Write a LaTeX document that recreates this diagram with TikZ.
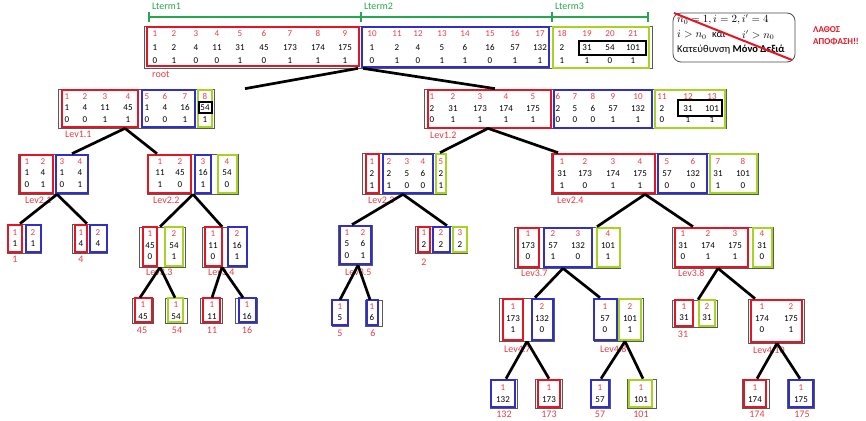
\documentclass[tikz,border=0pt]{standalone}
\usepackage{fontspec}
\setmainfont{Carlito}
\usetikzlibrary{fit}
\definecolor{cred}{RGB}{228,22,36}
\definecolor{cblue}{RGB}{48,48,200}
\definecolor{clime}{RGB}{165,212,35}
\definecolor{cidx}{RGB}{232,62,72}
\definecolor{cgreen}{RGB}{40,168,78}
\newcommand\Xout[5]{\node[outerbox, fit={(#2,#3) (#4,#5)}] (#1) {};}
\newcommand\Xred[4]{\draw[redbox] (#1,#2) rectangle (#3,#4);}
\newcommand\Xblue[4]{\draw[bluebox] (#1,#2) rectangle (#3,#4);}
\newcommand\Xlime[4]{\draw[limebox] (#1,#2) rectangle (#3,#4);}
\newcommand\Xtri[4]{\foreach \cx/\ci/\cv/\cb in {#4}{\node[ix] at (\cx,#1) {\ci}; \node[vl] at (\cx,#2) {\cv}; \node[vl] at (\cx,#3) {\cb};}}
\newcommand\Xduo[3]{\foreach \cx/\ci/\cv in {#3}{\node[ix] at (\cx,#1) {\ci}; \node[vl] at (\cx,#2) {\cv};}}
\begin{document}
\begin{tikzpicture}[x=1pt,y=-1pt,
  outerbox/.style={draw=black!65, line width=0.7pt, inner sep=0pt},
  redbox/.style={draw=cred, line width=2.3pt},
  bluebox/.style={draw=cblue, line width=2.3pt},
  limebox/.style={draw=clime, line width=2.3pt},
  blackbox/.style={draw=black, line width=2.3pt},
  ix/.style={text=cidx, font=\fontsize{9}{10}\selectfont, inner sep=0pt, text height=5.7pt, text depth=0pt},
  vl/.style={text=black, font=\fontsize{9}{10}\selectfont, inner sep=0pt, text height=5.7pt, text depth=0pt},
  lab/.style={text=cidx, font=\fontsize{10}{11}\selectfont, inner sep=0pt, text height=6.4pt, text depth=0pt},
  link/.style={draw=black, line width=2.7pt},
  term/.style={draw=cgreen, line width=1.2pt},
  termlab/.style={text=cgreen, font=\fontsize{10}{11}\selectfont, inner sep=0pt, anchor=west, text height=6.4pt, text depth=0pt},
  note/.style={font=\fontsize{10.5}{12}\selectfont, inner sep=0pt, anchor=west},
]
\fill[white] (0,0) rectangle (866,420);
\useasboundingbox (0,0) rectangle (866,420);

% ---------- Lterm brackets ----------
\draw[term] (149,17) -- (361,17); \draw[term] (149,12) -- (149,22);
\draw[term] (361,17) -- (552,17); \draw[term] (361,12) -- (361,22);
\draw[term] (552,17) -- (648,17); \draw[term] (552,12) -- (552,22); \draw[term] (648,12) -- (648,22);
\node[termlab] (t1) at (152,6) {Lterm1};
\node[termlab] (t2) at (364,6) {Lterm2};
\node[termlab] (t3) at (555,6) {Lterm3};

% ---------- note ----------
\draw[draw=black!70, line width=0.8pt, rounded corners=8pt] (673,13) rectangle (795,62);
\node[note] (n1) at (677,20) {$n_0=1, i=2, i'=4$};
\node[note] (n2) at (677,35) {$i>n_0$};
\node[note] (n3) at (712,35) {και};
\node[note] (n4) at (742,35) {$i'>n_0$};
\node[note] (n5) at (677,50) {Κατεύθυνση \textbf{Μόνο Δεξιά}};
\draw[draw=cred, line width=2pt] (674,13) -- (792,60);
\node[text=cred, font=\fontsize{9}{10}\selectfont\bfseries, inner sep=0pt, anchor=west] (w1) at (813,30) {ΛΑΘΟΣ};
\node[text=cred, font=\fontsize{9}{10}\selectfont\bfseries, inner sep=0pt, anchor=west] (w2) at (813,42) {ΑΠΟΦΑΣΗ!!};

% ---------- outer boxes ----------
\Xout{root}{144}{26}{652}{68}
\Xout{lev11}{58}{89}{214}{128}
\Xout{lev12}{424}{89}{726}{128}
\Xout{lev21}{18}{154}{88}{194}
\Xout{lev22}{147}{154}{238}{194}
\Xout{lev23}{362}{153}{446}{194}
\Xout{lev24}{551}{153}{758}{194}
\Xout{lev31}{7}{224}{41}{253}
\Xout{lev32}{72}{224}{107}{253}
\Xout{lev33}{139}{227}{185}{267}
\Xout{lev34}{202}{227}{247}{267}
\Xout{lev35}{338}{225}{372}{265}
\Xout{lev36}{415}{226}{467}{253}
\Xout{lev37}{514}{227}{620}{268}
\Xout{lev38}{672}{227}{773}{268}
\Xout{lev41}{132}{298}{153}{323}
\Xout{lev42}{165}{298}{187}{323}
\Xout{lev43}{200}{298}{222}{323}
\Xout{lev44}{235}{298}{257}{323}
\Xout{lev45}{332}{300}{348}{326}
\Xout{lev46}{365}{300}{382}{326}
\Xout{lev47}{499}{298}{554}{341}
\Xout{lev48}{594}{298}{643}{341}
\Xout{lev49}{672}{300}{717}{327}
\Xout{lev410}{748}{299}{804}{343}
\Xout{l51}{490}{379}{517}{408}
\Xout{l52}{535}{379}{562}{408}
\Xout{l53}{590}{379}{610}{408}
\Xout{l54}{627}{379}{656}{408}
\Xout{l55}{742}{379}{769}{408}
\Xout{l56}{787}{379}{814}{408}

% ---------- coloured boxes ----------
% root
\Xred{147}{27}{359}{66} \Xblue{362}{27}{549}{67} \Xlime{553}{27}{649}{68}
\draw[blackbox] (579,41) rectangle (646,55);
% level 1
\Xred{62}{90}{138}{127} \Xblue{142}{90}{195}{127} \Xlime{198}{90}{212}{127}
\draw[blackbox] (199,102) rectangle (212,113);
\Xred{428}{90}{551}{128} \Xblue{554}{90}{652}{128} \Xlime{655}{90}{725}{128}
\draw[blackbox] (678,100) rectangle (722,116);
% level 2
\Xred{20}{155}{53}{193} \Xblue{56}{155}{88}{193}
\Xred{148}{155}{191}{193} \Xblue{195}{155}{211}{193} \Xlime{218}{155}{237}{193}
\Xred{366}{154}{379}{193} \Xblue{383}{154}{433}{193} \Xlime{436}{154}{446}{193}
\Xred{553}{154}{655}{193} \Xblue{658}{154}{707}{193} \Xlime{710}{154}{757}{193}
% level 3
\Xred{8}{225}{22}{252} \Xblue{26}{225}{41}{252}
\Xred{75}{225}{87}{252} \Xblue{90}{225}{107}{252}
\Xred{143}{227}{157}{266} \Xlime{165}{227}{183}{266}
\Xred{205}{227}{222}{266} \Xblue{228}{227}{247}{266}
\Xblue{340}{226}{371}{264}
\Xred{418}{227}{430}{252} \Xblue{433}{227}{450}{252} \Xlime{453}{227}{467}{252}
\Xred{518}{228}{539}{267} \Xblue{544}{228}{592}{267} \Xlime{597}{228}{620}{267}
\Xred{675}{228}{748}{267} \Xlime{753}{228}{772}{267}
% level 4
\Xred{135}{298}{152}{322} \Xlime{168}{298}{183}{322}
\Xred{203}{298}{220}{322} \Xblue{239}{298}{256}{322}
\Xblue{332}{300}{348}{325} \Xblue{367}{300}{378}{325}
\Xred{503}{299}{523}{340} \Xblue{532}{299}{553}{340}
\Xblue{594}{299}{617}{340} \Xlime{619}{299}{641}{340}
\Xred{675}{300}{693}{326} \Xlime{699}{300}{715}{326}
\Xred{751}{300}{802}{342}
% level 5
\Xblue{491}{380}{515}{407} \Xred{538}{380}{560}{407}
\Xblue{591}{380}{609}{407} \Xlime{629}{380}{652}{407}
\Xred{744}{380}{766}{407} \Xblue{789}{380}{813}{407}

% ---------- cell texts ----------
\Xtri{34}{48}{61}{155/1/1/0,174/2/2/1,196/3/4/0,217/4/11/0,240/5/31/1,264/6/45/0,290/7/173/1,318/8/174/1,345/9/175/1,372/10/1/0,397/11/2/1,418/12/4/0,442/13/5/1,465/14/6/1,490/15/16/0,515/16/57/1,540/17/132/1,562/18/2/1,587/19/31/1,610/20/54/0,633/21/101/1}
\Xtri{97}{108}{120}{67/1/1/0,85/2/4/0,105/3/11/1,128/4/45/1,147/5/1/0,165/6/4/0,185/7/16/1,205/8/54/1}
\Xtri{97}{109}{120}{432/1/2/0,453/2/31/1,480/3/173/1,506/4/174/1,533/5/175/1,558/6/2/0,575/7/5/0,593/8/6/0,613/9/57/1,638/10/132/1,662/11/2/0,688/12/31/1,712/13/101/1}
\Xtri{162}{173}{185}{27/1/1/0,43/2/4/1,62/3/1/0,80/4/4/1}
\Xtri{162}{173}{185}{160/1/11/1,180/2/45/0,203/3/16/1,227/4/54/0}
\Xtri{162}{174}{186}{372/1/2/1,389/2/2/1,407/3/5/0,423/4/6/0,441/5/2/1}
\Xtri{162}{174}{186}{562/1/31/1,585/2/173/0,613/3/174/1,640/4/175/1,667/5/57/0,693/6/132/0,718/7/31/1,743/8/101/0}
\Xduo{233}{244}{15/1/1,33/2/1}
\Xduo{233}{244}{81/1/4,98/2/4}
\Xtri{234}{246}{257}{150/1/45/0,174/2/54/1}
\Xtri{234}{246}{257}{213/1/11/0,237/2/16/1}
\Xtri{233}{244}{256}{347/1/5/0,363/2/6/1}
\Xduo{233}{245}{424/1/2,441/2/2,460/3/2}
\Xtri{234}{246}{257}{528/1/173/0,553/2/57/1,578/3/132/0,608/4/101/1}
\Xtri{234}{246}{257}{683/1/31/0,708/2/174/1,735/3/175/1,762/4/31/0}
\Xduo{305}{317}{143/1/45,176/1/54,212/1/11,247/1/16}
\Xduo{307}{318}{340/1/5,372/1/6}
\Xtri{307}{319}{330}{513/1/173/1,542/2/132/0,605/1/57/0,630/2/101/1,762/1/174/0,791/2/175/1}
\Xduo{307}{318}{684/1/31,707/2/31}
\Xduo{388}{400}{503/1/132,549/1/173,600/1/57,641/1/101,755/1/174,801/1/175}

% ---------- labels ----------
\node[lab, anchor=west] (lr) at (152,74) {root};
\node[lab, anchor=west] (a11) at (65,134) {Lev1.1};
\node[lab, anchor=west] (a12) at (430,135) {Lev1.2};
\node[lab, anchor=west] (a21) at (25,200) {Lev2.1};
\node[lab, anchor=west] (a22) at (153,200) {Lev2.2};
\node[lab, anchor=west] (a23) at (368,200) {Lev2.3};
\node[lab, anchor=west] (a24) at (557,200) {Lev2.4};
\node[lab, anchor=west] (a33) at (146,272) {Lev3.3};
\node[lab, anchor=west] (a34) at (208,272) {Lev3.4};
\node[lab, anchor=west] (a35) at (345,272) {Lev3.5};
\node[lab, anchor=west] (a37) at (521,273) {Lev3.7};
\node[lab, anchor=west] (a38) at (678,273) {Lev3.8};
\node[lab, anchor=west] (a47) at (504,349) {Lev4.7};
\node[lab, anchor=west] (a48) at (600,349) {Lev4.8};
\node[lab, anchor=west] (a410) at (753,350) {Lev4.10};
\foreach \cx/\cy/\ct [count=\k] in {15/259/1,81/259/4,424/262/2,142/330/45,177/330/54,212/330/11,247/330/16,340/333/5,373/333/6,683/334/31,504/414/132,549/414/173,600/414/57,641/414/101,757/414/174,802/414/175}
  \node[lab] (leaf\k) at (\cx,\cy) {\ct};

% ---------- connectors ----------
\draw[link] (358,0 |- root.south) -- (245,0 |- lev11.north);
\draw[link] (363,0 |- root.south) -- (495,0 |- lev12.north);
\draw[link] (125,0 |- lev11.south) -- (72,0 |- lev21.north);
\draw[link] (125,0 |- lev11.south) -- (157,0 |- lev22.north);
\draw[link] (488,0 |- lev12.south) -- (440,0 |- lev23.north);
\draw[link] (488,0 |- lev12.south) -- (558,0 |- lev24.north);
\draw[link] (57,0 |- lev21.south) -- (20,0 |- lev31.north);
\draw[link] (57,0 |- lev21.south) -- (87,0 |- lev32.north);
\draw[link] (193,0 |- lev22.south) -- (160,0 |- lev33.north);
\draw[link] (193,0 |- lev22.south) -- (222,0 |- lev34.north);
\draw[link] (403,0 |- lev23.south) -- (352,0 |- lev35.north);
\draw[link] (403,0 |- lev23.south) -- (447,0 |- lev36.north);
\draw[link] (645,0 |- lev24.south) -- (597,0 |- lev37.north);
\draw[link] (645,0 |- lev24.south) -- (693,0 |- lev38.north);
\draw[link] (160,0 |- lev33.south) -- (140,0 |- lev41.north);
\draw[link] (160,0 |- lev33.south) -- (175,0 |- lev42.north);
\draw[link] (222,0 |- lev34.south) -- (212,0 |- lev43.north);
\draw[link] (222,0 |- lev34.south) -- (243,0 |- lev44.north);
\draw[link] (358,0 |- lev35.south) -- (340,0 |- lev45.north);
\draw[link] (358,0 |- lev35.south) -- (370,0 |- lev46.north);
\draw[link] (563,0 |- lev37.south) -- (535,0 |- lev47.north);
\draw[link] (563,0 |- lev37.south) -- (600,0 |- lev48.north);
\draw[link] (718,0 |- lev38.south) -- (698,0 |- lev49.north);
\draw[link] (718,0 |- lev38.south) -- (755,0 |- lev410.north);
\draw[link] (527,0 |- lev47.south) -- (506,0 |- l51.north);
\draw[link] (527,0 |- lev47.south) -- (549,0 |- l52.north);
\draw[link] (625,0 |- lev48.south) -- (601,0 |- l53.north);
\draw[link] (625,0 |- lev48.south) -- (643,0 |- l54.north);
\draw[link] (777,0 |- lev410.south) -- (757,0 |- l55.north);
\draw[link] (777,0 |- lev410.south) -- (800,0 |- l56.north);
\end{tikzpicture}
\end{document}
